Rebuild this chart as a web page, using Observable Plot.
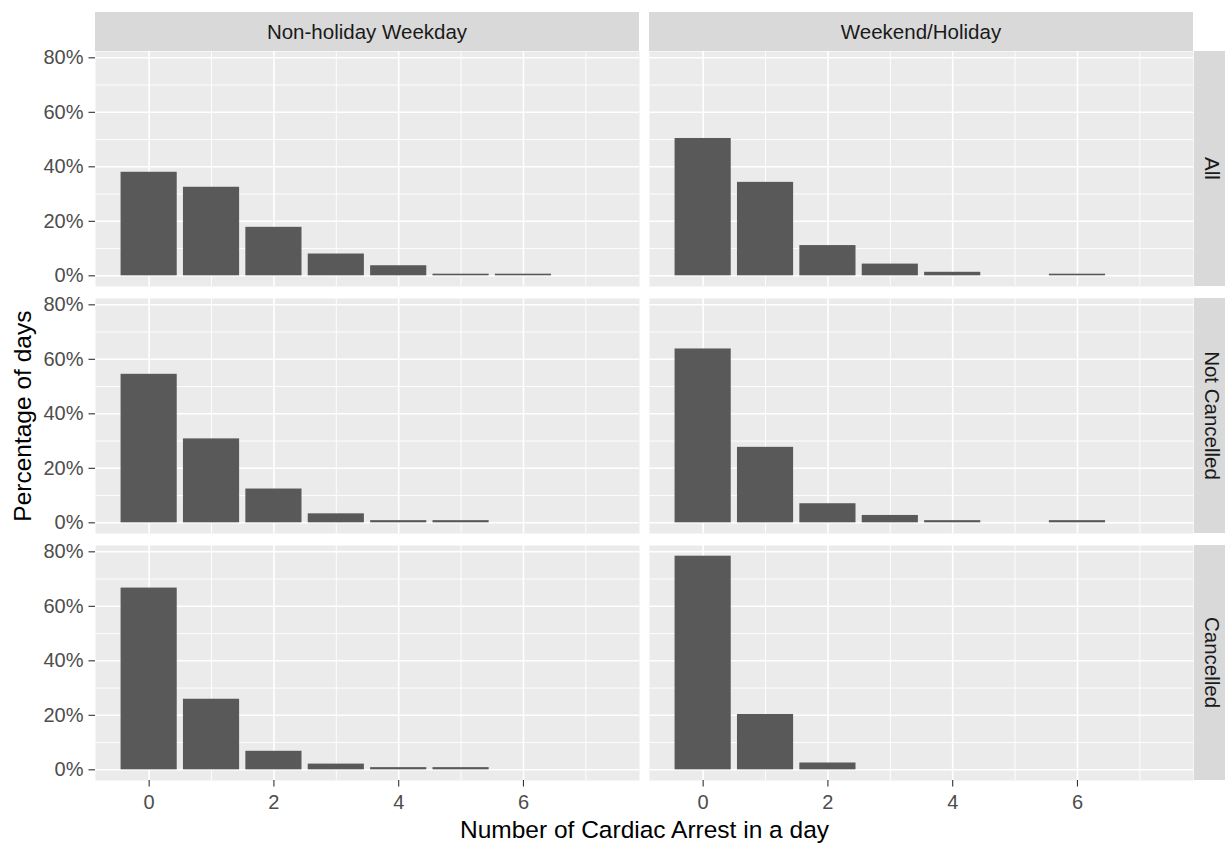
<!DOCTYPE html>
<html>
<head>
<meta charset="utf-8">
<script src="https://cdn.jsdelivr.net/npm/d3@7"></script>
<script src="https://cdn.jsdelivr.net/npm/@observablehq/plot@0.6"></script>
<style>
  html, body { margin: 0; padding: 0; background: #ffffff; }
  #chart { width: 1225px; height: 844px; overflow: hidden; }
</style>
</head>
<body>
<div id="chart"></div>
<script>
// ---- data (percent of days) ----
const counts = [0, 1, 2, 3, 4, 5, 6];
const dayTypes = ["Non-holiday Weekday", "Weekend/Holiday"];
const groups = ["All", "Not Cancelled", "Cancelled"];

const weekdayAll          = [38.0, 32.5, 17.8, 8.0, 3.7, 0.6, 0.6];
const weekdayNotCancelled = [54.5, 30.8, 12.4, 3.3, 0.8, 0.8, 0];
const weekdayCancelled    = [66.7, 25.9, 6.8, 2.1, 0.8, 0.8, 0];
const weekendAll          = [50.4, 34.3, 11.1, 4.3, 1.3, 0, 0.6];
const weekendNotCancelled = [63.8, 27.7, 7.0, 2.7, 0.8, 0, 0.8];
const weekendCancelled    = [78.4, 20.3, 2.5, 0, 0, 0, 0];

const yTicks = [0, 0.2, 0.4, 0.6, 0.8];
const yMinor = [0.1, 0.3, 0.5, 0.7];
const xTicks = [0, 2, 4, 6];
const xMinor = [1, 3, 5, 7];
const xTitle = "Number of Cardiac Arrest in a day";
const yTitle = "Percentage of days";

// ---- table for the library ----
const series = {
  "Non-holiday Weekday": {"All": weekdayAll, "Not Cancelled": weekdayNotCancelled, "Cancelled": weekdayCancelled},
  "Weekend/Holiday": {"All": weekendAll, "Not Cancelled": weekendNotCancelled, "Cancelled": weekendCancelled}
};
const rows = [];
for (const t of dayTypes) for (const g of groups) {
  series[t][g].forEach((v, i) => { if (v > 0) rows.push({type: t, group: g, n: counts[i], pct: v / 100}); });
}

const FONT = "'Liberation Sans', Arial, Helvetica, sans-serif";
const TICK_FONT = 20;
const STRIP_FONT = 20.5;
const TITLE_FONT = 24.5;
const gridStyle = {stroke: "#ffffff", strokeOpacity: 1};

const plot = Plot.plot({
  width: 1225,
  height: 844,
  marginLeft: 94.5,
  marginRight: 30.5,
  marginTop: 51,
  marginBottom: 62.7,
  style: {fontFamily: FONT, fontSize: `${TICK_FONT}px`, background: "#ffffff", color: "#4d4d4d", overflow: "visible"},
  x: {domain: [-0.86, 7.86], label: null},
  y: {domain: [-0.0392, 0.8232], label: null},
  fx: {domain: dayTypes, paddingInner: 0.018, paddingOuter: 0, axis: null, label: null},
  fy: {domain: groups, paddingInner: 0.047, paddingOuter: 0, axis: null, label: null},
  marks: [
    Plot.frame({fill: "#ebebeb", stroke: null}),
    Plot.gridY(yMinor, {...gridStyle, strokeWidth: 0.9}),
    Plot.gridX(xMinor, {...gridStyle, strokeWidth: 0.9}),
    Plot.gridY(yTicks, {...gridStyle, strokeWidth: 1.6}),
    Plot.gridX(xTicks, {...gridStyle, strokeWidth: 1.6}),
    Plot.rect(rows, {
      x1: d => d.n - 0.45,
      x2: d => d.n + 0.45,
      y1: 0,
      y2: "pct",
      fx: "type",
      fy: "group",
      fill: "#595959"
    }),
    Plot.axisY(yTicks, {
      tickFormat: d => `${Math.round(d * 100)}%`,
      tickSize: 6.5, tickPadding: 5.5,
      stroke: "#333333", fill: "#4d4d4d", strokeWidth: 1.1,
      label: null
    }),
    Plot.axisX(xTicks, {
      tickFormat: d => `${d}`,
      tickSize: 6.5, tickPadding: 8,
      stroke: "#333333", fill: "#4d4d4d", strokeWidth: 1.1,
      label: null
    })
  ]
});

// ---- facet strips and axis titles, positioned from the plot's own scales ----
const fx = plot.scale("fx");
const fy = plot.scale("fy");
const svg = d3.select(plot);
const strips = svg.append("g").attr("font-family", FONT).attr("font-size", `${STRIP_FONT}px`);
const stripSize = 39;

for (const t of dayTypes) {
  const x0 = fx.apply(t);
  const y0 = fy.apply(groups[0]);
  strips.append("rect")
    .attr("x", x0).attr("y", y0 - stripSize)
    .attr("width", fx.bandwidth).attr("height", stripSize)
    .attr("fill", "#d9d9d9");
  strips.append("text")
    .attr("x", x0 + fx.bandwidth / 2).attr("y", y0 - stripSize / 2)
    .attr("text-anchor", "middle").attr("dominant-baseline", "central")
    .attr("fill", "#1a1a1a").text(t);
}
const lastCol = dayTypes[dayTypes.length - 1];
const rightEdge = fx.apply(lastCol) + fx.bandwidth + 1;
for (const g of groups) {
  const y0 = fy.apply(g);
  strips.append("rect")
    .attr("x", rightEdge).attr("y", y0)
    .attr("width", 38).attr("height", fy.bandwidth)
    .attr("fill", "#d9d9d9");
  const cx = rightEdge + 18, cy = y0 + fy.bandwidth / 2;
  strips.append("text")
    .attr("transform", `translate(${cx},${cy}) rotate(90)`)
    .attr("text-anchor", "middle").attr("dominant-baseline", "central")
    .attr("fill", "#1a1a1a").text(g);
}

const xr = fx.range, yr = fy.range;
svg.append("text")
  .attr("x", (xr[0] + xr[1]) / 2).attr("y", 838)
  .attr("text-anchor", "middle")
  .attr("font-family", FONT).attr("font-size", `${TITLE_FONT}px`).attr("fill", "#000000")
  .text(xTitle);
svg.append("text")
  .attr("transform", `translate(22,${(yr[0] + yr[1]) / 2}) rotate(-90)`)
  .attr("text-anchor", "middle").attr("dominant-baseline", "central")
  .attr("font-family", FONT).attr("font-size", `${TITLE_FONT}px`).attr("fill", "#000000")
  .text(yTitle);

document.getElementById("chart").appendChild(plot);
</script>
</body>
</html>
